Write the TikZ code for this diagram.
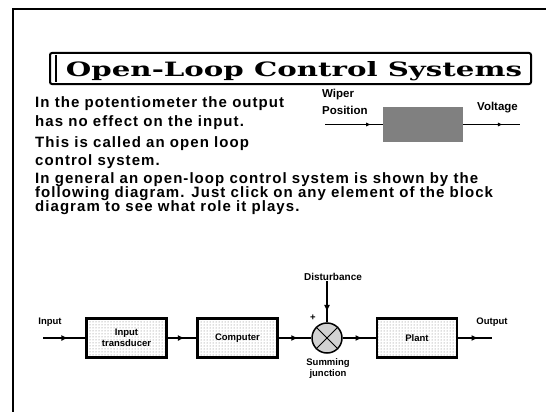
\documentclass[tikz,border=0pt]{standalone}
\usepackage{fontspec}
\setmainfont{Liberation Sans}
\newfontfamily\bodyfont[LetterSpace=7]{Liberation Sans}
\newfontfamily\titlefont{DejaVu Serif}
\usetikzlibrary{patterns,decorations.markings,arrows.meta}
\begin{document}
\begin{tikzpicture}[x=1pt,y=-1pt,
 txt/.style={anchor=west,inner sep=0pt,font=\bodyfont\fontsize{15}{17}\selectfont\bfseries},
 lbl/.style={inner sep=0pt,font=\fontsize{9.5}{11}\selectfont\bfseries},
 slbl/.style={inner sep=0pt,anchor=west,font=\fontsize{11.5}{13}\selectfont\bfseries},
 blk/.style={draw,line width=2.5pt,pattern=dots,pattern color=black!55,minimum width=80pt,minimum height=39pt,inner sep=0pt,align=center,font=\fontsize{9.5}{10.5}\selectfont\bfseries},
 conn/.style={line width=1.6pt,postaction={decorate},decoration={markings,mark=at position #1 with {\arrow{Latex[length=7pt,width=6pt]}}}},
 conn/.default=0.6,
 sconn/.style={line width=1pt,postaction={decorate},decoration={markings,mark=at position #1 with {\arrow{Latex[length=5pt,width=4pt]}}}},
 sconn/.default=0.6
]
\useasboundingbox (0,0) rectangle (546,412);
% frame
\draw[line width=2pt] (546,9) -- (13,9) -- (13,412);
% title
\draw[line width=2pt,rounded corners=2pt] (50,53) rectangle (531,84);
\draw[line width=1.5pt] (56,55) -- (56,82);
\node[inner sep=0pt,anchor=base] (title) at (294,76) {\resizebox{456pt}{15pt}{\titlefont\bfseries Open-Loop Control Systems}};
% text
\node[txt] (p1) at (35,104) {In the potentiometer the output};
\node[txt] (p2) at (35,123) {has no effect on the input.};
\node[txt] (p3) at (35,144) {This is called an open loop};
\node[txt] (p4) at (35,162) {control system.};
\node[txt] (q1) at (35,180) {In general an open-loop control system is shown by the};
\node[txt] (q2) at (35,194) {following diagram. Just click on any element of the block};
\node[txt] (q3) at (35,208) {diagram to see what role it plays.};
% small diagram
\node[fill=black!50,minimum width=80pt,minimum height=35pt,inner sep=0pt] (pot) at (423,124.5) {};
\node[slbl] (wiper) at (322,95) {Wiper};
\node[slbl] (pos) at (322,110) {Position};
\coordinate (win) at (325,124.5);
\draw[sconn=0.8] (win) -- (pot.west);
\node[slbl] (volt) at (477,108) {Voltage};
\coordinate (vout) at (520,124.5);
\draw[sconn=0.7] (pot.east) -- (vout);
% block diagram
\node[blk] (it) at (126.5,338) {Input\\transducer};
\node[blk] (comp) at (237.5,338) {Computer};
\node[circle,draw,line width=1.5pt,fill=gray!35,minimum size=30pt,inner sep=0pt] (sum) at (327,338) {};
\draw[line width=1pt] (sum.north west) -- (sum.south east) (sum.north east) -- (sum.south west);
\node[blk] (plant) at (417,338) {Plant};
\coordinate (in) at (43,338);
\coordinate (out) at (492,338);
\node[lbl] (inl) at (50,322) {Input};
\node[lbl] (outl) at (492,322) {Output};
\node[lbl,font=\fontsize{10}{11}\selectfont\bfseries] (dist) at (333,277) {Disturbance};
\node[lbl] (plus) at (313,318) {+};
\node[lbl,align=center] (sj) at (328,369) {Summing\\junction};
\draw[conn] (in) -- (it.west);
\draw[conn] (it.east) -- (comp.west);
\draw[conn] (comp.east) -- (sum.west);
\draw[conn=0.75] (dist.south -| sum.north) -- (sum.north);
\draw[conn] (sum.east) -- (plant.west);
\draw[conn] (plant.east) -- (out);
\end{tikzpicture}
\end{document}
